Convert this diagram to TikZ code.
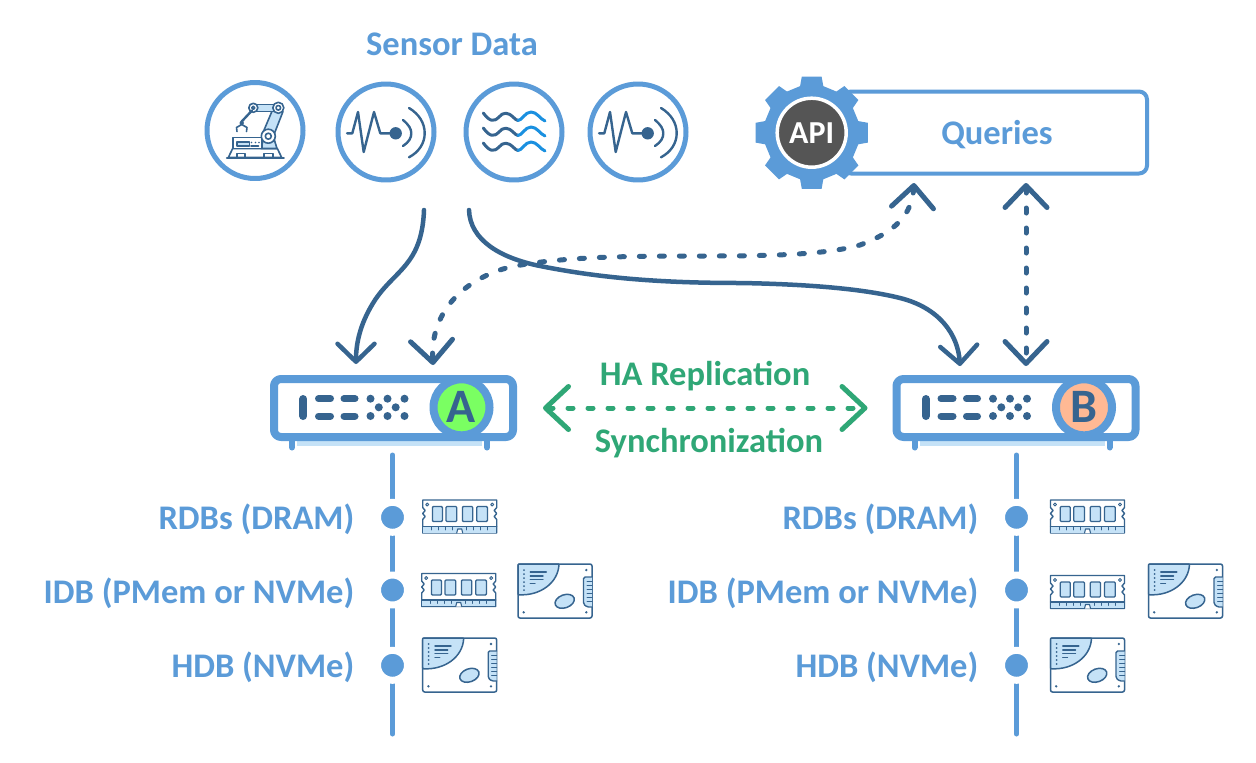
\documentclass[tikz,border=0pt]{standalone}
\usepackage{fontspec}
\setmainfont{Carlito}
\usetikzlibrary{arrows.meta,positioning}
\definecolor{haink}{HTML}{36648F}
\definecolor{hablue}{HTML}{5B9BD8}
\definecolor{hapale}{HTML}{C5E2F7}
\definecolor{hawave}{HTML}{1A90E0}
\definecolor{hagreen}{HTML}{2FA776}
\definecolor{hagrey}{HTML}{555555}
\definecolor{badgeA}{HTML}{7AFF62}
\definecolor{badgeB}{HTML}{FFB994}
\tikzset{
  tipf/.tip={Straight Barb[length=18pt,width=37pt,round]},
  tipq/.tip={Straight Barb[length=22pt,width=42pt,round]},
  tiph/.tip={Straight Barb[length=23pt,width=43pt,round]},
  pics/hwserver/.style 2 args={code={
    \fill[hapale] (-96.5,30) rectangle (88.5,38);
    \draw[hablue,line width=6pt] (-101.5,33)--(-101.5,39.5);
    \draw[hablue,line width=6pt] (93.5,33)--(93.5,39.5);
    \node[draw=hablue,fill=white,line width=8pt,rounded corners=7pt,
      minimum width=239pt,minimum height=58pt,inner sep=0pt] (-body) at (0,0) {};
    \draw[haink,line width=8pt] (-90.2,-9)--(-90.2,8);
    \foreach \yy in {-9.3,8} {
      \draw[haink,line width=7pt] (-75,\yy)--(-63,\yy);
      \draw[haink,line width=7pt] (-49.5,\yy)--(-38.5,\yy);
      \foreach \xx in {-23,-6,11} \fill[haink] (\xx,\yy) circle (4);
    }
    \foreach \xx in {-14.7,2.2} \fill[haink] (\xx,-.7) circle (4);
    \node[draw=hablue,fill=#2,line width=8pt,circle,minimum size=56pt,inner sep=0pt,
      text=haink,font=\bfseries\fontsize{48}{48}\selectfont] (-badge) at (68,-.7) {#1};
  }},
  pics/ramstick/.style={code={
    \draw[haink,fill=white,line width=1.4pt,line join=round]
      (-37,-16.5)--(37,-16.5)--(37,-9)--(34.5,-6)--(37,-3)--(34.5,0)--(37,3)--(37,16.5)
      --(-37,16.5)--(-37,3)--(-34.5,0)--(-37,-3)--(-34.5,-6)--(-37,-9)--cycle;
    \fill[hapale] (-36.4,10)--(36.4,10)--(36.4,16)--(-36.4,16)--cycle;
    \draw[haink,line width=1.2pt] (-37,10)--(37,10);
    \foreach \xx in {-28,-21,-14,-7,7,14,21,28} \draw[haink,line width=.9pt] (\xx,10)--(\xx,13.5);
    \draw[haink,fill=white,line width=1.1pt] (-3,16.5)--(-2,12.5)--(2,12.5)--(3,16.5);
    \foreach \xa/\xb in {-27.3/-17.3,-13.7/-3,2.7/13,17/27.7}
      \draw[haink,fill=hapale,line width=1.3pt,rounded corners=1pt] (\xa,-10) rectangle (\xb,5);
    \draw[haink,line width=1pt] (-32.5,-12) circle (1.5) (32.5,-12) circle (1.5);
  }},
  pics/ssddisk/.style={code={
    \draw[haink,fill=white,line width=1.5pt,rounded corners=2pt] (-37,-27) rectangle (37,27);
    \draw[haink,fill=hapale,line width=1.5pt,rounded corners=.8pt]
      (-37,3.7) .. controls (-15,5) and (3,-8) .. (4,-27)--(-37,-27)--cycle;
    \foreach \yy in {-21,-17,-13,-9,-5,-1} \fill[haink] (-31,\yy) circle (1);
    \draw[haink,line width=1.4pt] (-24.7,-19)--(-8.7,-19) (-24.7,-15)--(-12,-15)
      (-24.7,-11.3)--(-12,-11.3) (-24.7,-7.3)--(-20,-7.3);
    \draw[haink,fill=hapale,line width=1.5pt,shift={(9.7,10.3)},rotate=20] (0,0) ellipse (10 and 6.5);
    \draw[haink,fill=hapale,line width=1.4pt,rounded corners=1.5pt]
      (37,-14)--(28.5,-14)--(28.5,13)--(32,16)--(37,16);
    \foreach \yy in {-10,-6,-2,2,6,10} \draw[haink,line width=1pt] (32,\yy)--(37,\yy);
    \foreach \xx/\yy in {31.3/-21,31.3/21.3,-31.3/21.3} \fill[haink] (\xx,\yy) circle (1.3);
  }},
  pics/pulsewave/.style={code={
    \draw[haink,line width=2.4pt,line join=round,line cap=round]
      (-39,1.3)--(-33.7,1.3)--(-28,-20)--(-22.3,20)--(-12,-20)--(-5.7,1.3)--(3.7,1.3);
    \fill[haink] (9.7,1.3) circle (6.2);
    \draw[haink,line width=2.4pt,line cap=round]
      (17,-12) .. controls (23,-7) and (25.3,-3) .. (25.3,1.3) .. controls (25.3,6) and (23,10) .. (17,14);
    \draw[haink,line width=2.4pt,line cap=round]
      (23,-24) .. controls (33,-18) and (38.7,-9) .. (38.7,1.3) .. controls (38.7,11) and (33,20) .. (23,25.3);
  }}
}
\begin{document}
\begin{tikzpicture}[x=1pt,y=-1pt,line cap=round,line join=round,
  font=\bfseries\fontsize{34.5}{40}\selectfont,text=hablue,
  label/.style={anchor=east,inner sep=0pt},
  title/.style={inner sep=0pt},
  sensor/.style={circle,draw=hablue,fill=white,line width=5pt,minimum size=96pt,inner sep=0pt},
  tierline/.style={hablue,line width=5pt},
  tierdot/.style={circle,fill=hablue,draw=white,line width=7pt,minimum size=30pt,inner sep=0pt},
  flow/.style={haink,line width=4.5pt,-tipf},
  query/.style={haink,line width=5pt,dash pattern=on 5pt off 15pt,tipq-tipq},
  roboarm/.style={haink,line width=1.6pt}]
\path[use as bounding box] (0,0) rectangle (1256,763);
\fill[white] (0,0) rectangle (1256,763);

% sensor row
\node[title] (sensortitle) at (452,44) {Sensor Data};
\node[sensor] (robot) at (255,130.5) {};
\node[sensor] (pulseA) at (386,132) {};
\node[sensor] (waves) at (514,132) {};
\node[sensor] (pulseB) at (638,132) {};

% robot arm
\begin{scope}[shift={(robot)}]
\draw[roboarm] (-28.3,27.3)--(29,27.3);
\draw[roboarm,fill=white] (-26.7,27)--(-22.3,18)--(22.3,18)--(26.7,27)--cycle;
\draw[roboarm] (-18.3,26.5)--(-18.3,23)--(-10,23)--(-10,26.5) (9,26.5)--(9,23)--(17.7,23)--(17.7,26.5);
\draw[roboarm,fill=hapale] (8,10)--(6,18)--(22,18)--(18,5)--cycle;
\draw[roboarm,fill=white] (-22.3,7) rectangle (6.7,18);
\draw[roboarm,fill=hapale] (-18.3,11.3) rectangle (-5.7,15.7);
\foreach \xx in {-3.5,.5,4} \fill[haink] (\xx,12) circle (.9);
\draw[roboarm] (-4,15.7)--(3.5,15.7);
\draw[roboarm,fill=hapale] (8,2)--(19,-24)--(28,-19)--(19,4)--cycle;
\draw[roboarm,fill=hapale] (-1.7,-26) rectangle (23,-19);
\draw[roboarm,fill=white] (13.3,5.7) circle (7);
\draw[roboarm] (13.3,5.7) circle (3);
\draw[roboarm,fill=white] (23.3,-22.7) circle (5.5);
\draw[roboarm] (23.3,-22.7) circle (2.3);
\draw[roboarm,fill=white] (-1.7,-22.7) circle (4.5);
\draw[roboarm] (-1.7,-22.7) circle (1.6);
\draw[roboarm,line width=2.4pt] (-3,-20)--(-13.3,-9);
\fill[haink] (-13.3,-7.5) circle (2.2);
\draw[roboarm] (-18,1)--(-18.5,-3)--(-13.3,-6)--(-8,-3)--(-8.5,1);
\end{scope}

% pulse and wave icons
\pic at (pulseA) {pulsewave};
\pic at (pulseB) {pulsewave};
\begin{scope}[shift={(waves)}]
\foreach \yy in {-15,0,15} {
  \draw[haink,line width=3pt] (-30.7,\yy-4) .. controls (-24,\yy+5) and (-20,\yy+5) .. (-15,\yy)
    .. controls (-11,\yy-5) and (-6,\yy-5) .. (-1,\yy) .. controls (1,\yy+2) and (3,\yy+3.5) .. (4,\yy+3.5);
  \draw[hawave,line width=3pt] (4,\yy+3.5) .. controls (8,\yy+3.5) and (11,\yy-5) .. (17,\yy-5)
    .. controls (23,\yy-5) and (26,\yy+2) .. (31,\yy+4);
}
\end{scope}

% queries box with the gear on top
\node[draw=hablue,fill=white,line width=4pt,rounded corners=8pt,minimum width=304pt,
  minimum height=82pt,inner sep=0pt] (queries) at (995,132.5) {};
\node[title,xshift=2pt,yshift=-2pt] at (queries) {Queries};
\begin{scope}[shift={(811.7,132.7)}]
\fill[hablue] (-14:48) \foreach \a in {0,45,...,315} {
  --(\a-14:48)--(\a-10:57)--(\a+10:57)--(\a+14:48)
} --cycle;
\end{scope}
\node[circle,fill=hagrey,draw=white,line width=3.5pt,minimum size=69pt,inner sep=0pt,
  text=white,font=\bfseries\fontsize{32}{32}\selectfont] (api) at (811.7,132.7) {API};

% servers and replication
\pic (srvA) at (393.5,408) {hwserver={A}{badgeA}};
\pic (srvB) at (1016,408) {hwserver={B}{badgeB}};
\draw[hagreen,line width=5pt,dash pattern=on 5pt off 15pt,tiph-tiph,
  shorten <=26pt,shorten >=25pt] (srvA-body)--(srvB-body);
\node[title,text=hagreen] (harep) at (705,376) {HA Replication};
\node[title,text=hagreen] (hasync) at (709,443) {Synchronization};

% data flow
\coordinate (srcA) at (424,210);
\coordinate (srcB) at (469,210);
\coordinate (tipA) at (356,364);
\coordinate (tipB) at (960,366);
\coordinate (tipAq) at (433,365);
\coordinate (tipG) at (914,183);
\coordinate (tipQ) at (1026,183);
\coordinate (tipBq) at (1026,366);
\draw[flow] (srcA) .. controls (422,265) and (395,270) .. (375,300)
  .. controls (362,320) and (356,340) .. (tipA);
\draw[flow] (srcB) .. controls (470,240) and (500,258) .. (540,266)
  .. controls (600,278) and (660,283) .. (740,283)
  .. controls (800,284) and (860,288) .. (900,298)
  .. controls (940,308) and (958,335) .. (tipB);
\draw[query] (tipG) .. controls (912,215) and (895,232) .. (860,245)
  .. controls (825,255) and (770,256) .. (700,256)
  .. controls (620,256) and (560,257) .. (510,267)
  .. controls (460,280) and (430,315) .. (tipAq);
\draw[query] (tipQ)--(tipBq);

% storage tiers, server A
\draw[tierline] (392.5,455)--(392.5,734);
\node[tierdot] (ramdotA) at (392.5,517.3) {};
\node[tierdot] (idbdotA) at (392.5,590) {};
\node[tierdot] (hdbdotA) at (392.5,665.3) {};
\node[label] at (354.5,519) {RDBs (DRAM)};
\node[label] at (354.5,593) {IDB (PMem or NVMe)};
\node[label] at (354.5,667) {HDB (NVMe)};
\pic at (459.7,516.5) {ramstick};
\pic at (458.7,590) {ramstick};
\pic at (555,591) {ssddisk};
\pic at (459.7,665) {ssddisk};

% storage tiers, server B
\draw[tierline] (1016.5,455)--(1016.5,734);
\node[tierdot] (ramdotB) at (1016.5,517.3) {};
\node[tierdot] (idbdotB) at (1016.5,590) {};
\node[tierdot] (hdbdotB) at (1016.5,665.3) {};
\node[label] at (978.5,519) {RDBs (DRAM)};
\node[label] at (978.5,593) {IDB (PMem or NVMe)};
\node[label] at (978.5,667) {HDB (NVMe)};
\pic at (1087.5,516.5) {ramstick};
\pic at (1087.5,592) {ramstick};
\pic at (1185.5,591) {ssddisk};
\pic at (1087.5,665) {ssddisk};
\end{tikzpicture}
\end{document}
